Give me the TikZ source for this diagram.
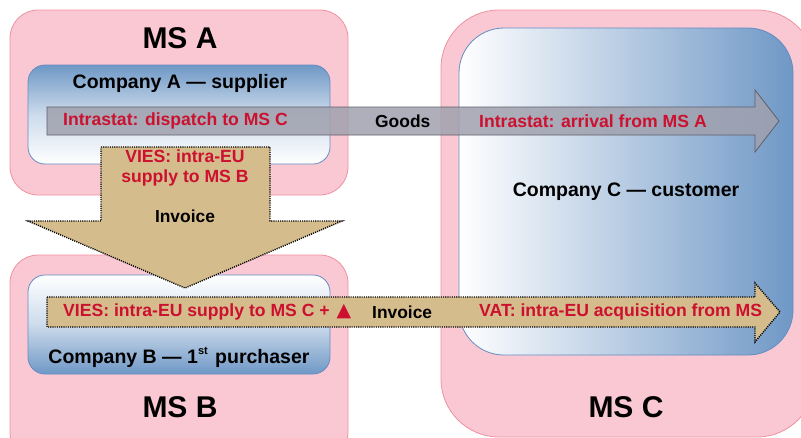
\documentclass[tikz,border=0pt]{standalone}
\usepackage{fontspec}
\setmainfont{Liberation Sans}
\newfontfamily\symfont{DejaVu Sans}
\definecolor{pinkfill}{RGB}{250,200,210}
\definecolor{pinkline}{RGB}{240,145,162}
\definecolor{bluec}{RGB}{111,152,198}
\definecolor{blueline}{RGB}{100,140,195}
\definecolor{tan}{RGB}{213,188,140}
\definecolor{redtxt}{RGB}{204,16,48}
\definecolor{goodsfill}{RGB}{160,161,174}
\definecolor{goodsline}{RGB}{95,95,105}
\tikzset{
  msbox/.style={fill=pinkfill,draw=pinkline,line width=0.8pt},
  cobox/.style={draw=blueline,line width=0.8pt},
  dotline/.style={draw=black,line width=1.4pt,dash pattern=on 1.1pt off 1.1pt},
  mslabel/.style={font=\fontsize{30}{32}\selectfont\bfseries,inner sep=0pt},
  colabel/.style={font=\fontsize{19.5}{22}\selectfont\bfseries,inner sep=0pt},
  redlabel/.style={font=\fontsize{17.6}{20}\selectfont\bfseries,text=redtxt,inner sep=0pt},
  blklabel/.style={font=\fontsize{17.4}{20}\selectfont\bfseries,inner sep=0pt},
}
\begin{document}
\begin{tikzpicture}[x=1pt,y=-1pt]
\useasboundingbox (0,0) rectangle (801,437);
\clip (0,0) rectangle (801,437);
% Member state boxes
\draw[msbox,rounded corners=28pt] (10,10) rectangle (348,195);
\draw[msbox,rounded corners=28pt] (10,255) rectangle (348,460);
\draw[msbox,rounded corners=58pt] (441,10) rectangle (815,437);
% Company boxes
\draw[cobox,rounded corners=17pt,top color=bluec,bottom color=white,middle color=bluec!35!white] (28,65) rectangle (330,164);
\draw[cobox,rounded corners=17pt,top color=white,bottom color=bluec,middle color=bluec!35!white] (28,275) rectangle (330,374);
\draw[cobox,rounded corners=45pt,left color=white,right color=bluec] (459,28) rectangle (793,355);
% Goods arrow
\draw[fill=goodsfill,fill opacity=0.85,draw=goodsline,line width=0.8pt]
  (47,107) -- (755,107) -- (755,90) -- (779,121) -- (755,152) -- (755,135) -- (47,135) -- cycle;
% Down invoice arrow
\path[fill=tan,dotline] (101,147) -- (270,147) -- (270,221) -- (342,221) -- (185,288) -- (28,221) -- (101,221) -- cycle;
% Horizontal invoice arrow
\path[fill=tan,dotline] (47,297) -- (755,297) -- (755,283) -- (780,312) -- (755,342) -- (755,327) -- (47,327) -- cycle;
% Labels
\node[mslabel] (msa) at (180,38) {MS A};
\node[mslabel] (msb) at (180,407) {MS B};
\node[mslabel] (msc) at (626,407) {MS C};
\node[colabel] (coa) at (180,83) {Company A — supplier};
\node[colabel] (cob) at (179,357) {Company B — 1\raisebox{9pt}{\fontsize{11}{11}\selectfont st}\hspace{2pt} purchaser};
\node[colabel] (coc) at (626,192) {Company C — customer};
\node[redlabel,anchor=west] (dis) at (63,121) {Intrastat: dispatch to MS C};
\node[blklabel,anchor=west] (goods) at (375,121) {Goods};
\node[redlabel,anchor=west] (arr) at (479,121) {Intrastat: arrival from MS A};
\node[redlabel] (vies1) at (185,156) {VIES: intra-EU};
\node[redlabel] (vies2) at (185,178) {supply to MS B};
\node[blklabel] (inv1) at (185,216) {Invoice};
\node[redlabel,anchor=west] (vies3) at (63,312) {VIES: intra-EU supply to MS C +\hspace{7pt}{\symfont\fontsize{19}{19}\selectfont ▲}};
\node[blklabel,anchor=west] (inv2) at (372,312) {Invoice};
\node[redlabel,anchor=west] (vat) at (479,312) {VAT: intra-EU acquisition from MS};
\end{tikzpicture}
\end{document}
